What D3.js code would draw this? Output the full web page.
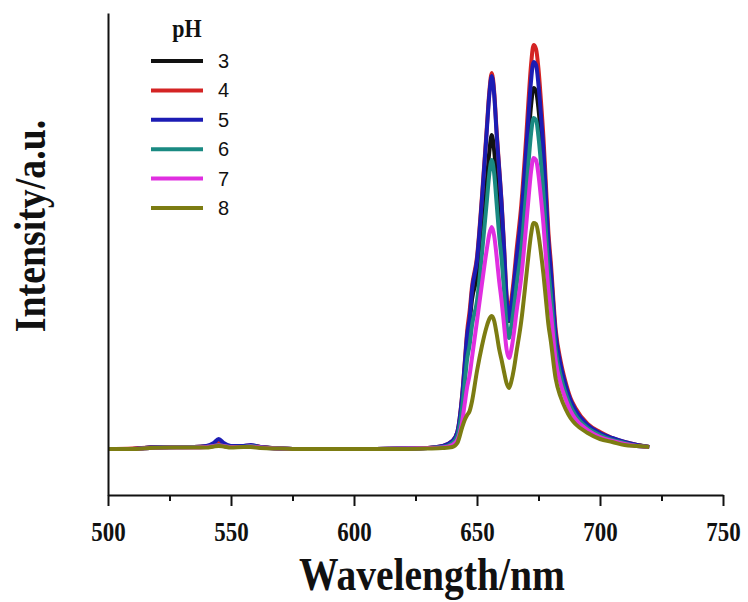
<!DOCTYPE html>
<html>
<head>
<meta charset="utf-8">
<script src="https://cdn.jsdelivr.net/npm/d3@7"></script>
<style>
    body { margin: 0; background: #fff; }
    .tick-label { font-family: "Liberation Serif", "Times New Roman", serif; font-weight: bold; }
    .axis-title { font-family: "Liberation Serif", "Times New Roman", serif; font-weight: bold; }
    .legend-text { font-family: "Liberation Sans", Arial, sans-serif; }
</style>
</head>
<body>
<div id="chart"></div>
<script>
// wavelength grid (nm), shared by every series
var wavelength = [500, 510, 517, 525, 535, 540, 543, 545, 547, 550, 555, 558, 562, 570, 580, 600, 620, 630, 636,
    640, 642, 644, 645, 646, 647, 648, 650, 652, 654, 655, 656, 657, 658, 659, 660, 661, 662, 663, 664, 665, 666,
    668, 670, 671, 672, 673, 674, 675, 676, 677, 678, 679, 680, 682, 684, 686, 688, 690, 695, 700, 705, 710, 715, 720];

// intensity (a.u.) for each pH
var ph3 = [0, 0, 1.5, 2, 2, 2.5, 4, 5, 4, 2.5, 2.5, 3, 2, 0.5, 0, 0, 0.5, 1, 2.5,
    7, 15, 50, 78, 108, 127, 150, 172, 215, 268, 297, 314, 298, 268, 235, 205, 170, 140, 128, 140, 158, 180,
    220, 280, 314, 344, 361, 358, 340, 312, 279, 237, 196, 168, 108, 80, 61, 47, 37, 23, 15, 10, 6, 4, 2];
var ph4 = [0, 0.5, 1.5, 2, 2, 2.5, 4, 6, 4, 2.5, 3, 3.5, 2, 0.5, 0, 0, 0.5, 1, 3,
    8, 17, 55, 86, 118, 138, 163, 192, 252, 322, 357, 376, 357, 317, 282, 247, 203, 155, 134, 150, 171, 197,
    244, 312, 351, 385, 404, 400, 380, 348, 312, 265, 218, 187, 119, 88, 67, 51, 41, 25, 17, 11, 7, 4, 2];
var ph5 = [0, 0, 1.5, 2, 2, 3, 6, 10, 6, 3, 3, 4, 2, 0.5, 0, 0, 0.5, 1, 3,
    8, 17, 54, 84, 114, 131, 159, 189, 249, 319, 354, 373, 354, 314, 280, 245, 200, 152, 129, 144, 164, 189,
    234, 299, 336, 369, 387, 384, 364, 334, 299, 254, 209, 179, 114, 84, 64, 49, 39, 24, 16, 11, 7, 4, 2];
var ph6 = [0, 0, 1, 1.5, 2, 2, 3, 4, 3, 2, 2, 3, 1.5, 0.5, 0, 0, 0.5, 1, 2,
    6, 13, 42, 66, 90, 104, 124, 148, 195, 248, 275, 289, 275, 245, 214, 190, 158, 125, 111, 124, 141, 162,
    200, 256, 288, 316, 331, 329, 312, 286, 256, 218, 180, 155, 99, 73, 56, 43, 34, 21, 14, 9, 6, 3, 2];
var ph7 = [0, 0, 1, 1.5, 1.5, 2, 3, 3.5, 3, 2, 2, 2.5, 1.5, 0.5, 0, 0, 0.5, 1, 1.5,
    4, 9, 28, 45, 62, 74, 92, 128, 165, 200, 215, 222, 213, 192, 168, 148, 124, 100, 91, 100, 116, 136,
    172, 224, 252, 278, 291, 289, 274, 251, 225, 192, 159, 137, 88, 65, 50, 38, 30, 19, 12, 8, 5, 3, 2];
var ph8 = [0, 0, 1, 1.5, 1.5, 1.5, 2.5, 3, 2.5, 1.5, 2, 2, 1, 0.5, 0, 0, 0, 0.5, 1,
    2, 6, 22, 29, 34, 38, 48, 78, 103, 123, 130, 133, 128, 115, 100, 89, 77, 66, 61, 68, 80, 96,
    128, 172, 195, 215, 226, 225, 214, 196, 175, 150, 125, 108, 70, 52, 40, 31, 25, 16, 10, 7, 4, 3, 2];

var phLabels = ["3", "4", "5", "6", "7", "8"];
var phColors = ["#111111", "#d42424", "#1c1cb4", "#1a8a82", "#e02ee0", "#7c7c12"];
var phSeries = [ph3, ph4, ph5, ph6, ph7, ph8];

var xTicks = [500, 550, 600, 650, 700, 750];
var xMinorTicks = [525, 575, 625, 675, 725];

var svgWidth = 748;
var svgHeight = 602;

var svg = d3
    .select("#chart")
    .append("svg")
    .attr("width", svgWidth)
    .attr("height", svgHeight);

var xScale = d3.scaleLinear()
    .domain([500, 750])
    .range([108, 723]);

var yScale = d3.scaleLinear()
    .domain([-46, 436])
    .range([495, 13]);

// spectra
var line = d3.line()
    .x(d => xScale(d[0]))
    .y(d => yScale(d[1]))
    .curve(d3.curveMonotoneX);

phSeries.forEach((values, i) =>
{
    var points = wavelength.map((w, j) => [w, values[j]]);
    svg.append("path")
        .datum(points)
        .attr("d", line)
        .attr("fill", "none")
        .attr("stroke", phColors[i])
        .attr("stroke-width", 4)
        .attr("stroke-linejoin", "round");
});

// axes
var bottomAxis = d3.axisBottom(xScale)
    .tickValues(xTicks)
    .tickSize(11)
    .tickSizeOuter(0)
    .tickFormat(d3.format("d"));

var xAxis = svg.append("g")
    .attr("transform", `translate(0, ${yScale(-46)})`)
    .call(bottomAxis);

xAxis.select(".domain")
    .attr("stroke", "#111")
    .attr("stroke-width", 2);
xAxis.selectAll(".tick line")
    .attr("stroke", "#111")
    .attr("stroke-width", 2);
xAxis.selectAll(".tick text")
    .classed("tick-label", true)
    .attr("fill", "#111")
    .attr("font-size", 28)
    .attr("dy", null)
    .attr("y", 46)
    .attr("transform", "scale(0.82, 1)");

var minorAxis = d3.axisBottom(xScale)
    .tickValues(xMinorTicks)
    .tickSize(6)
    .tickSizeOuter(0)
    .tickFormat("");

var xMinor = svg.append("g")
    .attr("transform", `translate(0, ${yScale(-46)})`)
    .call(minorAxis);
xMinor.select(".domain").remove();
xMinor.selectAll(".tick line")
    .attr("stroke", "#111")
    .attr("stroke-width", 2);

var leftAxis = d3.axisLeft(yScale)
    .tickValues([])
    .tickSizeOuter(0);

svg.append("g")
    .attr("transform", `translate(${xScale(500)}, 0)`)
    .call(leftAxis)
    .select(".domain")
    .attr("stroke", "#111")
    .attr("stroke-width", 2);

// axis titles
svg.append("text")
    .classed("axis-title", true)
    .attr("transform", "translate(432, 590) scale(0.86, 1)")
    .attr("text-anchor", "middle")
    .attr("font-size", 46)
    .attr("fill", "#111")
    .text("Wavelength/nm");

svg.append("text")
    .classed("axis-title", true)
    .attr("transform", "translate(45, 226) rotate(-90) scale(0.86, 1)")
    .attr("text-anchor", "middle")
    .attr("font-size", 44)
    .attr("fill", "#111")
    .text("Intensity/a.u.");

// legend
var legend = svg.append("g");

legend.append("text")
    .classed("axis-title", true)
    .attr("transform", "translate(187, 37) scale(0.88, 1)")
    .attr("text-anchor", "middle")
    .attr("font-size", 25)
    .attr("fill", "#111")
    .text("pH");

var legendRow = d3.scaleLinear()
    .domain([0, 5])
    .range([61, 208]);

phLabels.forEach((label, i) =>
{
    legend.append("line")
        .attr("x1", 151)
        .attr("x2", 203)
        .attr("y1", legendRow(i))
        .attr("y2", legendRow(i))
        .attr("stroke", phColors[i])
        .attr("stroke-width", 4);

    legend.append("text")
        .classed("legend-text", true)
        .attr("x", 218)
        .attr("y", legendRow(i) + 7)
        .attr("font-size", 20)
        .attr("fill", "#111")
        .text(label);
});
</script>
</body>
</html>
